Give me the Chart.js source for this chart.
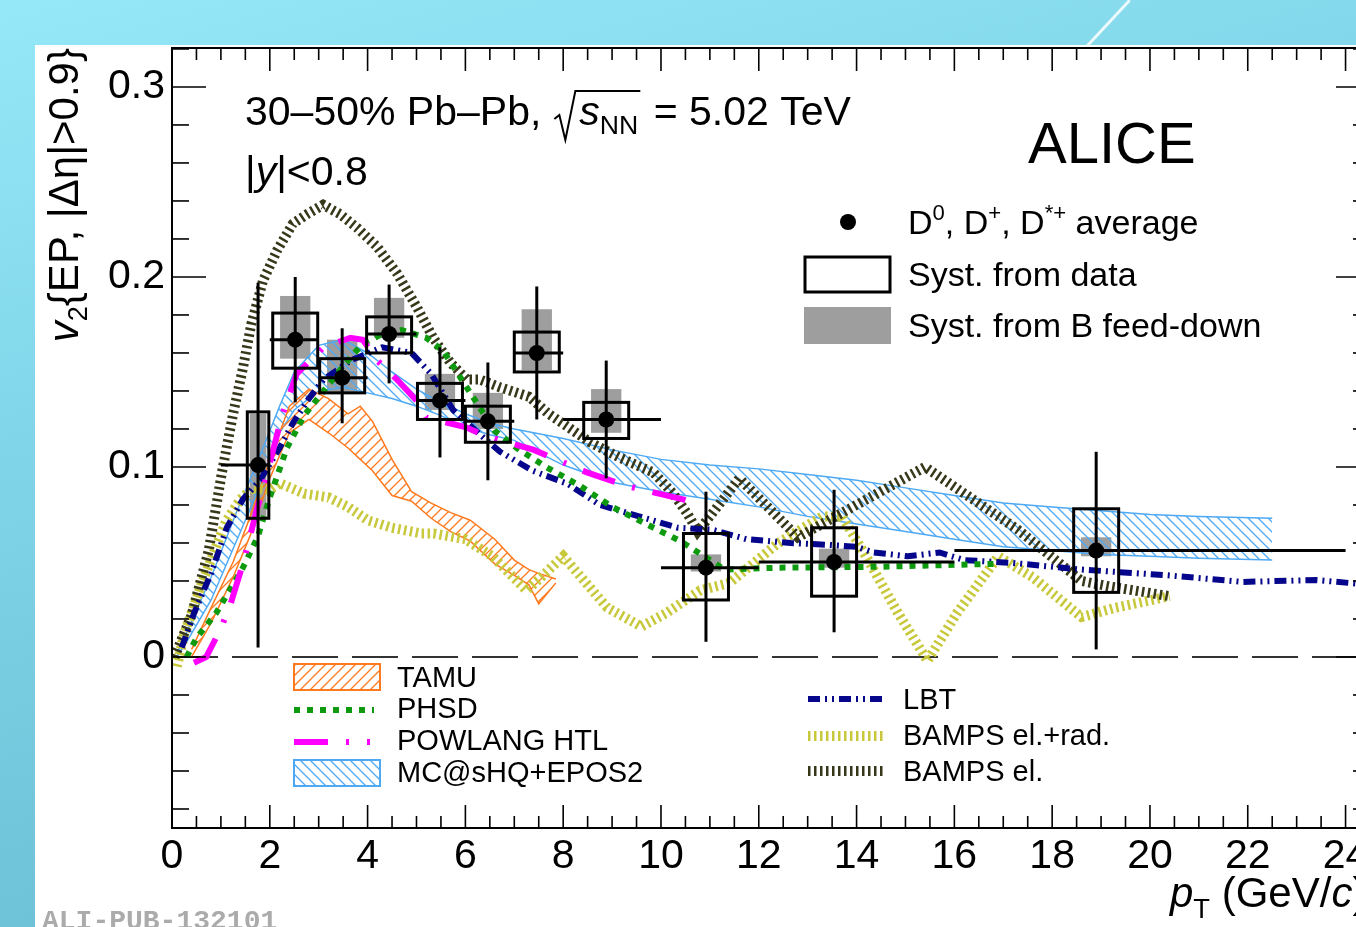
<!DOCTYPE html>
<html>
<head>
<meta charset="UTF-8">
<title>D meson v2 30-50% Pb-Pb</title>
<script src="https://cdn.jsdelivr.net/npm/chart.js"></script>
<style>
  html, body { margin: 0; padding: 0; width: 1356px; height: 927px; overflow: hidden; }
  body { position: relative; background: linear-gradient(165deg, #95e8f7 0%, #80d5e8 35%, #62b5cb 100%); }
  #streak { position: absolute; left: 1107px; top: -8px; width: 3px; height: 62px; background: rgba(255,255,255,0.85); transform: rotate(43deg); }
  #panel { position: absolute; left: 35px; top: 45px; width: 1321px; height: 882px; background: #fff; }
  #wrap { position: absolute; left: 0; top: 0; width: 1400px; height: 927px; }
</style>
</head>
<body>
<div id="streak"></div>
<div id="panel"></div>
<div id="wrap"><canvas id="chart" width="1400" height="927"></canvas></div>
<script>
const FONT = "'Liberation Sans', Arial, sans-serif";

// axis tick labels
const xTickVals = [0, 2, 4, 6, 8, 10, 12, 14, 16, 18, 20, 22, 24];
const yTickVals = [0, 0.1, 0.2, 0.3];

// D0, D+, D*+ average
const dPt     = [1.76, 2.52, 3.48, 4.44, 5.48, 6.46, 7.46, 8.88, 10.92, 13.54, 18.9];
const dV2     = [0.101, 0.167, 0.147, 0.170, 0.135, 0.124, 0.160, 0.125, 0.047, 0.050, 0.056];
const statLo  = [0.005, 0.134, 0.123, 0.144, 0.105, 0.093, 0.125, 0.094, 0.008, 0.013, 0.004];
const statHi  = [0.197, 0.200, 0.173, 0.196, 0.163, 0.155, 0.195, 0.156, 0.087, 0.088, 0.108];
const binLo   = [1, 2, 3, 4, 5, 6, 7, 8, 10, 12, 16];
const binHi   = [2, 3, 4, 5, 6, 7, 8, 10, 12, 16, 24];
const systLo  = [0.073, 0.152, 0.139, 0.160, 0.125, 0.113, 0.150, 0.115, 0.030, 0.032, 0.034];
const systHi  = [0.129, 0.181, 0.157, 0.179, 0.144, 0.132, 0.171, 0.134, 0.065, 0.068, 0.078];
const systHw  = [0.22, 0.46, 0.46, 0.46, 0.46, 0.46, 0.46, 0.46, 0.46, 0.46, 0.46];
const fdLo    = [0.074, 0.157, 0.139, 0.168, 0.130, 0.120, 0.151, 0.118, 0.045, 0.047, 0.053];
const fdHi    = [0.128, 0.190, 0.167, 0.189, 0.149, 0.139, 0.183, 0.141, 0.054, 0.057, 0.063];
const fdHw    = [0.17, 0.31, 0.31, 0.31, 0.31, 0.31, 0.31, 0.31, 0.31, 0.31, 0.31];

// MC@sHQ+EPOS2 band
const mcX  = [0.1, 0.3, 0.8, 1.3, 1.8, 2.2, 2.5, 3.0, 3.5, 4.0, 4.5, 5.0, 5.5, 6.0, 6.5, 7.0, 8.0, 9.0, 10.0, 11.0, 12.0, 13.0, 14.0, 15.0, 16.0, 17.0, 18.0, 19.0, 20.0, 21.0, 22.5];
const mcHi = [0.002, 0.013, 0.042, 0.075, 0.106, 0.132, 0.150, 0.164, 0.167, 0.160, 0.150, 0.141, 0.134, 0.128, 0.123, 0.120, 0.115, 0.109, 0.104, 0.101, 0.099, 0.096, 0.093, 0.089, 0.085, 0.081, 0.079, 0.077, 0.075, 0.074, 0.073];
const mcLo = [0.000, 0.008, 0.030, 0.060, 0.090, 0.118, 0.130, 0.140, 0.142, 0.139, 0.136, 0.132, 0.127, 0.121, 0.117, 0.114, 0.101, 0.092, 0.087, 0.083, 0.079, 0.074, 0.070, 0.066, 0.062, 0.058, 0.056, 0.054, 0.053, 0.052, 0.051];

// TAMU band
const tamuX  = [0.4, 0.8, 1.25, 1.6, 2.0, 2.4, 2.8, 3.2, 3.6, 3.85, 4.1, 4.5, 4.9, 5.3, 5.7, 6.1, 6.6, 7.0, 7.3, 7.5, 7.85];
const tamuHi = [0.004, 0.026, 0.050, 0.074, 0.104, 0.132, 0.141, 0.136, 0.128, 0.132, 0.124, 0.104, 0.087, 0.081, 0.076, 0.072, 0.062, 0.051, 0.046, 0.044, 0.041];
const tamuLo = [0.000, 0.018, 0.042, 0.064, 0.094, 0.118, 0.125, 0.118, 0.110, 0.104, 0.098, 0.085, 0.082, 0.073, 0.066, 0.061, 0.049, 0.043, 0.038, 0.028, 0.039];

// PHSD
const phsdX = [0.3, 0.5, 0.9, 1.45, 1.75, 2.0, 2.35, 2.7, 3.1, 3.5, 3.9, 4.3, 4.7, 5.2, 5.55, 6.0, 6.6, 7.05, 7.65, 8.35, 9.0, 9.85, 10.4, 11.0, 11.3, 12.4, 14.5, 16.0, 16.8];
const phsdY = [0.0, 0.010, 0.023, 0.047, 0.063, 0.084, 0.110, 0.127, 0.140, 0.153, 0.165, 0.170, 0.172, 0.168, 0.161, 0.143, 0.119, 0.110, 0.100, 0.090, 0.079, 0.068, 0.061, 0.051, 0.046, 0.047, 0.0475, 0.0485, 0.049];

// POWLANG HTL
const powX = [0.45, 0.7, 1.0, 1.2, 1.45, 1.75, 1.9, 2.25, 2.55, 3.1, 3.65, 3.9, 4.2, 4.6, 5.0, 5.2, 6.0, 6.45, 7.4, 8.5, 9.3, 10.45, 10.8];
const powY = [-0.003, 0.0, 0.015, 0.028, 0.049, 0.079, 0.092, 0.127, 0.149, 0.163, 0.168, 0.167, 0.156, 0.146, 0.135, 0.126, 0.121, 0.116, 0.109, 0.097, 0.090, 0.083, 0.080];

// LBT
const lbtX = [0.2, 0.45, 0.8, 1.12, 1.45, 1.8, 2.2, 2.47, 2.8, 3.1, 3.65, 4.3, 4.9, 5.3, 5.75, 6.3, 6.71, 7.38, 8.1, 8.75, 9.55, 10.35, 11.05, 11.75, 12.65, 13.45, 14.0, 14.35, 15.05, 15.7, 16.2, 17.2, 18.6, 20.35, 21.9, 23.4, 24.5];
const lbtY = [0.005, 0.023, 0.044, 0.068, 0.083, 0.093, 0.110, 0.123, 0.136, 0.146, 0.156, 0.163, 0.160, 0.149, 0.130, 0.117, 0.108, 0.098, 0.091, 0.080, 0.074, 0.068, 0.067, 0.062, 0.060, 0.059, 0.058, 0.055, 0.053, 0.055, 0.051, 0.0495, 0.046, 0.043, 0.0395, 0.0405, 0.038];

// BAMPS el.+rad.
const bampsRX = [0.1, 0.25, 0.6, 0.9, 1.12, 1.4, 1.65, 2.0, 2.2, 2.7, 3.2, 3.6, 4.0, 4.5, 5.1, 5.35, 6.0, 6.55, 6.9, 7.25, 7.55, 8.0, 8.4, 8.9, 9.6, 10.1, 10.8, 11.4, 12.4, 13.3, 13.7, 14.15, 14.85, 15.45, 16.05, 16.9, 17.6, 18.6, 19.3, 20.4];
const bampsRY = [-0.005, 0.012, 0.038, 0.058, 0.072, 0.083, 0.089, 0.088, 0.0915, 0.086, 0.084, 0.079, 0.072, 0.068, 0.065, 0.065, 0.062, 0.053, 0.044, 0.035, 0.042, 0.053, 0.041, 0.026, 0.016, 0.023, 0.035, 0.039, 0.060, 0.074, 0.074, 0.055, 0.023, -0.002, 0.023, 0.053, 0.042, 0.021, 0.026, 0.032];

// BAMPS el.
const bampsEX = [0.05, 0.4, 0.75, 1.02, 1.25, 1.45, 1.62, 1.86, 2.15, 2.47, 2.76, 3.09, 3.44, 3.78, 4.19, 4.6, 5.01, 5.34, 5.69, 6.03, 6.3, 6.7, 7.3, 7.7, 8.1, 8.55, 9.15, 9.85, 10.25, 10.55, 10.75, 11.0, 11.6, 12.8, 15.4, 17.3, 18.6, 19.2, 20.4];
const bampsEY = [0.0, 0.022, 0.056, 0.097, 0.128, 0.152, 0.175, 0.198, 0.214, 0.228, 0.233, 0.238, 0.233, 0.226, 0.216, 0.202, 0.184, 0.168, 0.155, 0.146, 0.146, 0.142, 0.137, 0.128, 0.121, 0.113, 0.105, 0.097, 0.086, 0.075, 0.066, 0.074, 0.094, 0.063, 0.100, 0.067, 0.040, 0.037, 0.032];

const pts = (xs, ys) => xs.map((v, i) => ({ x: v, y: ys[i] }));

function hatch(color, dir, gap, lw) {
  const c = document.createElement('canvas');
  c.width = gap; c.height = gap;
  const g = c.getContext('2d');
  g.strokeStyle = color; g.lineWidth = lw;
  g.beginPath();
  if (dir > 0) {
    g.moveTo(0, gap); g.lineTo(gap, 0);
    g.moveTo(-2, 2); g.lineTo(2, -2);
    g.moveTo(gap - 2, gap + 2); g.lineTo(gap + 2, gap - 2);
  } else {
    g.moveTo(0, 0); g.lineTo(gap, gap);
    g.moveTo(-2, gap - 2); g.lineTo(2, gap + 2);
    g.moveTo(gap - 2, -2); g.lineTo(gap + 2, 2);
  }
  g.stroke();
  return g.createPattern(c, 'repeat');
}

const mcColor = '#4ea9f5', tamuColor = '#ff7a1f';
const mcFill = hatch(mcColor, -1, 10, 1.3);
const tamuFill = hatch(tamuColor, 1, 10, 1.3);

const styles = {
  phsd:   { color: '#0e9a0e', width: 6, dash: [6, 7] },
  pow:    { color: '#ff00ff', width: 6, dash: [34, 18, 3, 18] },
  lbt:    { color: '#06068c', width: 6, dash: [12, 5, 2, 5, 2, 5] },
  bampsR: { color: '#c8c83c', width: 10, dash: [2.5, 3.5] },
  bampsE: { color: '#37371a', width: 10, dash: [2.5, 3.5] }
};

function lineSet(label, xs, ys, st, order) {
  return { type: 'line', label, data: pts(xs, ys), borderColor: st.color, borderWidth: st.width,
    borderDash: st.dash, pointRadius: 0, fill: false, tension: 0, order };
}

function rich(ctx, x, y, parts, size) {
  let cx = x;
  parts.forEach(p => {
    const o = p[1] || {};
    ctx.font = (o.i ? 'italic ' : '') + (size * (o.s || 1)) + 'px ' + FONT;
    ctx.fillText(p[0], cx, y + (o.dy || 0));
    cx += ctx.measureText(p[0]).width;
  });
  return cx;
}
function richWidth(ctx, parts, size) {
  let w = 0;
  parts.forEach(p => {
    const o = p[1] || {};
    ctx.font = (o.i ? 'italic ' : '') + (size * (o.s || 1)) + 'px ' + FONT;
    w += ctx.measureText(p[0]).width;
  });
  return w;
}
function seg(ctx, x1, y1, x2, y2) { ctx.beginPath(); ctx.moveTo(x1, y1); ctx.lineTo(x2, y2); ctx.stroke(); }
function sampleLine(ctx, st, x1, x2, y) {
  ctx.save(); ctx.strokeStyle = st.color; ctx.lineWidth = st.width; ctx.setLineDash(st.dash);
  seg(ctx, x1, y, x2, y); ctx.restore();
}

const alicePlugin = {
  id: 'alice',
  beforeDatasetsDraw(chart) {
    const { ctx, chartArea: a, scales: { x, y } } = chart;
    ctx.save();
    ctx.strokeStyle = '#333'; ctx.lineWidth = 2; ctx.setLineDash([46, 14]);
    const y0 = y.getPixelForValue(0);
    seg(ctx, a.left, y0, a.right, y0);
    ctx.setLineDash([]);
    ctx.fillStyle = '#9e9e9e';
    dPt.forEach((p, i) => {
      const l = x.getPixelForValue(p - fdHw[i]), r = x.getPixelForValue(p + fdHw[i]);
      const t = y.getPixelForValue(fdHi[i]), b = y.getPixelForValue(fdLo[i]);
      ctx.fillRect(l, t, r - l, b - t);
    });
    ctx.restore();
  },
  afterDatasetsDraw(chart) {
    const { ctx, chartArea: a, scales: { x, y } } = chart;
    ctx.save();
    ctx.strokeStyle = '#000';
    ctx.lineWidth = 3;
    dPt.forEach((p, i) => {
      const l = x.getPixelForValue(p - systHw[i]), r = x.getPixelForValue(p + systHw[i]);
      const t = y.getPixelForValue(systHi[i]), b = y.getPixelForValue(systLo[i]);
      ctx.strokeRect(l, t, r - l, b - t);
      const px = x.getPixelForValue(p), py = y.getPixelForValue(dV2[i]);
      seg(ctx, px, y.getPixelForValue(statHi[i]), px, y.getPixelForValue(statLo[i]));
      seg(ctx, x.getPixelForValue(binLo[i]), py, x.getPixelForValue(binHi[i]), py);
    });
    // frame
    ctx.lineWidth = 2;
    ctx.strokeRect(a.left, a.top, a.right - a.left, a.bottom - a.top);
    ctx.lineWidth = 1.6;
    for (let v = 0; v <= x.max + 1e-9; v += 0.5) {
      const px = x.getPixelForValue(v);
      const len = Math.abs(v / 2 - Math.round(v / 2)) < 1e-6 ? 23 : 12;
      seg(ctx, px, a.bottom, px, a.bottom - len);
      seg(ctx, px, a.top, px, a.top + len);
    }
    for (let v = -0.08; v <= y.max + 1e-9; v += 0.02) {
      const py = y.getPixelForValue(v);
      const len = Math.abs(v * 10 - Math.round(v * 10)) < 1e-6 ? 34 : 17;
      seg(ctx, a.left, py, a.left + len, py);
      seg(ctx, a.right, py, a.right - len, py);
    }
    ctx.restore();
  },
  afterDraw(chart) {
    const { ctx } = chart;
    ctx.save();
    ctx.fillStyle = '#000'; ctx.strokeStyle = '#000';
    ctx.textBaseline = 'alphabetic'; ctx.textAlign = 'left';

    // header
    let cx = rich(ctx, 245, 125, [['30–50% Pb–Pb,']], 41);
    const rx = cx + 13;
    cx = rich(ctx, rx + 25, 125, [['s', { i: 1 }], ['NN', { s: 0.65, dy: 9 }]], 41);
    ctx.lineWidth = 2;
    ctx.beginPath();
    ctx.moveTo(rx, 119); ctx.lineTo(rx + 5, 115); ctx.lineTo(rx + 11, 140); ctx.lineTo(rx + 21, 91); ctx.lineTo(cx + 2, 91);
    ctx.stroke();
    rich(ctx, cx + 4, 125, [[' = 5.02 TeV']], 41);
    rich(ctx, 245, 185, [['|'], ['y', { i: 1 }], ['|<0.8']], 41);
    rich(ctx, 1028, 163, [['ALICE']], 58);

    // y title
    const yParts = [['v', { i: 1 }], ['2', { s: 0.65, dy: 9 }], ['{EP, |Δη|>0.9}']];
    const yw = richWidth(ctx, yParts, 42);
    ctx.save(); ctx.translate(78, 48); ctx.rotate(-Math.PI / 2);
    rich(ctx, -yw, 0, yParts, 42);
    ctx.restore();

    // x title
    rich(ctx, 1170, 907, [['p', { i: 1 }], ['T', { s: 0.65, dy: 11 }], [' (GeV/'], ['c', { i: 1 }], [')']], 42);

    // data legend
    ctx.beginPath(); ctx.arc(848, 222, 8, 0, Math.PI * 2); ctx.fill();
    ctx.lineWidth = 3; ctx.strokeRect(805, 257, 85, 35);
    ctx.fillStyle = '#9e9e9e'; ctx.fillRect(804, 307, 87, 37);
    ctx.fillStyle = '#000';
    rich(ctx, 908, 234, [['D'], ['0', { s: 0.65, dy: -14 }], [', D'], ['+', { s: 0.65, dy: -14 }], [', D'], ['*+', { s: 0.65, dy: -14 }], [' average']], 34);
    rich(ctx, 908, 286, [['Syst. from data']], 34);
    rich(ctx, 908, 337, [['Syst. from B feed-down']], 34);

    // model legend
    ctx.lineWidth = 2;
    ctx.fillStyle = tamuFill; ctx.fillRect(294, 664, 86, 26);
    ctx.strokeStyle = tamuColor; ctx.strokeRect(294, 664, 86, 26);
    ctx.fillStyle = mcFill; ctx.fillRect(294, 760, 86, 26);
    ctx.strokeStyle = mcColor; ctx.strokeRect(294, 760, 86, 26);
    sampleLine(ctx, styles.phsd, 294, 374, 710);
    sampleLine(ctx, styles.pow, 294, 370, 742);
    sampleLine(ctx, styles.lbt, 808, 886, 699);
    sampleLine(ctx, styles.bampsR, 808, 884, 736);
    sampleLine(ctx, styles.bampsE, 808, 884, 771);
    ctx.fillStyle = '#000';
    rich(ctx, 397, 687, [['TAMU']], 29);
    rich(ctx, 397, 718, [['PHSD']], 29);
    rich(ctx, 397, 750, [['POWLANG HTL']], 29);
    rich(ctx, 397, 782, [['MC@sHQ+EPOS2']], 29);
    rich(ctx, 903, 709, [['LBT']], 29);
    rich(ctx, 903, 745, [['BAMPS el.+rad.']], 29);
    rich(ctx, 903, 781, [['BAMPS el.']], 29);

    ctx.font = "bold 28px 'Liberation Mono', monospace";
    ctx.fillStyle = '#ababab';
    ctx.fillText('ALI-PUB-132101', 42, 929);
    ctx.restore();
  }
};

new Chart(document.getElementById('chart'), {
  type: 'line',
  data: {
    datasets: [
      { type: 'scatter', label: 'D average', data: pts(dPt, dV2), pointRadius: 8, pointBackgroundColor: '#000', pointBorderWidth: 0, order: 0 },
      lineSet('POWLANG HTL', powX, powY, styles.pow, 1),
      lineSet('PHSD', phsdX, phsdY, styles.phsd, 2),
      lineSet('LBT', lbtX, lbtY, styles.lbt, 3),
      lineSet('BAMPS el.', bampsEX, bampsEY, styles.bampsE, 4),
      lineSet('BAMPS el.+rad.', bampsRX, bampsRY, styles.bampsR, 5),
      { type: 'line', label: 'TAMU low', data: pts(tamuX, tamuLo), borderColor: tamuColor, borderWidth: 1.5, pointRadius: 0, fill: false, tension: 0, order: 6 },
      { type: 'line', label: 'TAMU', data: pts(tamuX, tamuHi), borderColor: tamuColor, borderWidth: 1.5, pointRadius: 0, fill: '-1', backgroundColor: tamuFill, tension: 0, order: 6 },
      { type: 'line', label: 'MC low', data: pts(mcX, mcLo), borderColor: mcColor, borderWidth: 1.5, pointRadius: 0, fill: false, tension: 0, order: 7 },
      { type: 'line', label: 'MC@sHQ+EPOS2', data: pts(mcX, mcHi), borderColor: mcColor, borderWidth: 1.5, pointRadius: 0, fill: '-1', backgroundColor: mcFill, tension: 0, order: 7 }
    ]
  },
  options: {
    responsive: false,
    animation: false,
    devicePixelRatio: 1,
    layout: { padding: { left: 0, right: 30, top: 48, bottom: 0 } },
    plugins: { legend: { display: false }, tooltip: { enabled: false }, filler: { propagate: false } },
    scales: {
      x: {
        type: 'linear', min: 0, max: 24.5,
        afterFit: s => { s.height = 99; },
        afterBuildTicks: s => { s.ticks = xTickVals.map(v => ({ value: v })); },
        ticks: { font: { family: FONT, size: 41 }, color: '#000', padding: 4, maxRotation: 0, autoSkip: false, callback: v => String(v) },
        grid: { display: false, drawTicks: false },
        border: { display: false }
      },
      y: {
        type: 'linear', min: -0.09, max: 0.3205,
        afterFit: s => { s.width = 172; },
        afterBuildTicks: s => { s.ticks = yTickVals.map(v => ({ value: v })); },
        ticks: { font: { family: FONT, size: 41 }, color: '#000', padding: 7, autoSkip: false, callback: v => v === 0 ? '0' : v.toFixed(1) },
        grid: { display: false, drawTicks: false },
        border: { display: false }
      }
    }
  },
  plugins: [alicePlugin]
});
</script>
</body>
</html>
